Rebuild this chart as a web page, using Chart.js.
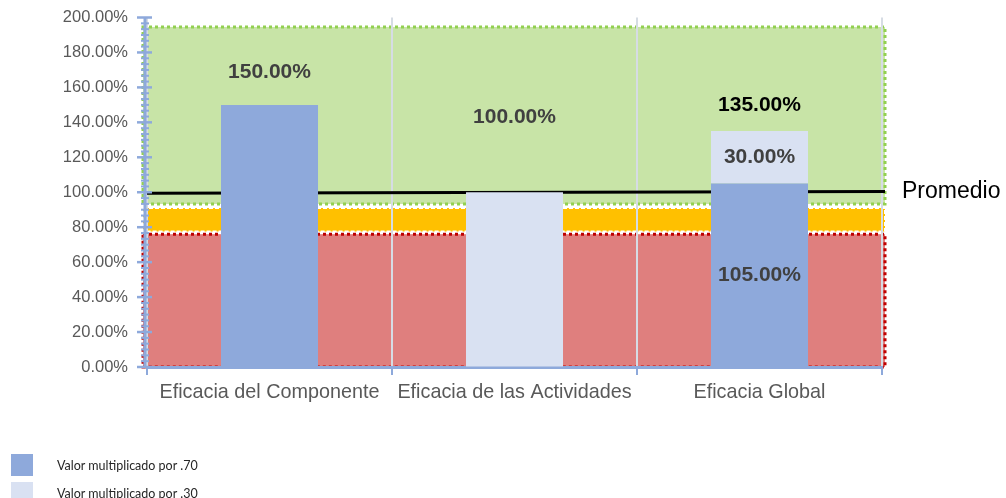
<!DOCTYPE html>
<html lang="es">
<head>
<meta charset="utf-8">
<title>Eficacia</title>
<script src="https://cdn.jsdelivr.net/npm/chart.js@4.4.1/dist/chart.umd.min.js"></script>
<style>
    html, body { margin: 0; padding: 0; background: #ffffff; }
    #contenedor { position: relative; width: 1006px; height: 498px; overflow: hidden; }
    #leyenda {
        position: absolute; left: 11px; top: 454px;
        font-family: "Lato", "Liberation Sans", sans-serif; font-size: 12.5px; color: #262626;
    }
    .item { display: flex; align-items: center; height: 22px; margin-bottom: 6px; }
    .caja { width: 22px; height: 22px; margin-right: 24px; }
</style>
</head>
<body>
<div id="contenedor">
    <canvas id="grafica"></canvas>
    <div id="leyenda"></div>
</div>
<script>
/* -----------------------------
   DATOS
----------------------------- */
const categorias = ["Eficacia del Componente", "Eficacia de las Actividades", "Eficacia Global"];
const nombresSeries = ["Valor multiplicado por .70", "Valor multiplicado por .30"];
const valores70 = [150, 0, 105];
const valores30 = [0, 100, 30];
const ticksY = [0, 20, 40, 60, 80, 100, 120, 140, 160, 180, 200];

// rangos de semaforo (inicio, fin) y linea de promedio (izq, der)
const rangoRojo = [0, 76];
const rangoAmarillo = [77.5, 91];
const rangoVerde = [93.3, 194.6];
const promedio = [99.4, 100.4];

/* -----------------------------
   ESTILOS
----------------------------- */
const colorAzul = "#8EA9DB";
const colorAzulClaro = "#D9E1F2";
const fuente = "'Liberation Sans', Arial, sans-serif";
// separacion (px) entre la punta de cada barra y su total
const separacionTotal = [33, 75, 26];

const formato = v => v.toFixed(2) + "%";

/* -----------------------------
   PLUGINS
----------------------------- */
const bandas = {
    id: "bandas",
    beforeDraw(chart) {
        const { ctx, chartArea, scales: { y } } = chart;
        const izq = chartArea.left - 4;
        const der = chartArea.right + 3;

        function banda(rango, relleno, borde, guion, grosor) {
            const arriba = y.getPixelForValue(rango[1]);
            const abajo = y.getPixelForValue(rango[0]);
            ctx.save();
            ctx.fillStyle = relleno;
            ctx.fillRect(izq, arriba, der - izq, abajo - arriba);
            ctx.strokeStyle = borde;
            ctx.lineWidth = grosor;
            ctx.setLineDash(guion);
            ctx.strokeRect(izq, arriba, der - izq, abajo - arriba);
            ctx.restore();
        }

        banda(rangoVerde, "#C8E4A7", "#92D050", [3, 3], 3);
        banda(rangoAmarillo, "#FFC000", "#FFFFFF", [4, 2], 2);
        banda(rangoRojo, "#DF7F7E", "#C00000", [3, 3], 3);
    },
    beforeDatasetsDraw(chart) {
        const { ctx, chartArea, scales: { y } } = chart;
        const y1 = y.getPixelForValue(promedio[0]);
        const y2 = y.getPixelForValue(promedio[1]);
        ctx.save();
        ctx.strokeStyle = "#000000";
        ctx.lineWidth = 3;
        ctx.beginPath();
        ctx.moveTo(chartArea.left, y1);
        ctx.lineTo(chartArea.right + 3, y2);
        ctx.stroke();

        ctx.fillStyle = "#000000";
        ctx.font = "23px " + fuente;
        ctx.textAlign = "left";
        ctx.textBaseline = "middle";
        ctx.fillText("Promedio", chartArea.right + 20, y2);
        ctx.restore();
    }
};

const etiquetas = {
    id: "etiquetas",
    afterDatasetsDraw(chart) {
        const { ctx } = chart;
        const barras70 = chart.getDatasetMeta(0).data;
        const barras30 = chart.getDatasetMeta(1).data;
        ctx.save();
        ctx.font = "bold 21px " + fuente;
        ctx.textAlign = "center";
        ctx.textBaseline = "middle";

        categorias.forEach((c, i) => {
            const a = valores70[i];
            const b = valores30[i];
            const total = a + b;
            const tope = b ? barras30[i] : barras70[i];
            const x = tope.x;

            if (a && b) {
                ctx.fillStyle = "#404040";
                const s1 = barras70[i];
                const s2 = barras30[i];
                ctx.fillText(formato(a), x, (s1.y + s1.base) / 2);
                ctx.fillText(formato(b), x, (s2.y + s2.base) / 2);
                ctx.fillStyle = "#000000";
            } else {
                ctx.fillStyle = "#404040";
            }
            ctx.fillText(formato(total), x, tope.y - separacionTotal[i]);
        });
        ctx.restore();
    }
};

const ejeY = {
    id: "ejeY",
    afterDraw(chart) {
        const { ctx, chartArea, scales: { y } } = chart;
        const x = chartArea.left - 2;
        ctx.save();
        ctx.strokeStyle = colorAzul;
        ctx.lineWidth = 3;
        ctx.beginPath();
        ctx.moveTo(x, y.getPixelForValue(ticksY[ticksY.length - 1]));
        ctx.lineTo(x, y.getPixelForValue(ticksY[0]));
        ctx.stroke();

        ctx.lineWidth = 2.5;
        for (let k = 0; k < ticksY.length; k++) {
            const py = y.getPixelForValue(ticksY[k]);
            ctx.beginPath();
            ctx.moveTo(x - 8, py);
            ctx.lineTo(x + 7, py);
            ctx.stroke();

            if (k < ticksY.length - 1) {
                const paso = (ticksY[k + 1] - ticksY[k]) / 6;
                ctx.lineWidth = 2;
                for (let m = 1; m < 6; m++) {
                    const pm = y.getPixelForValue(ticksY[k] + paso * m);
                    ctx.beginPath();
                    ctx.moveTo(x - 4, pm);
                    ctx.lineTo(x + 4, pm);
                    ctx.stroke();
                }
                ctx.lineWidth = 2.5;
            }
        }
        ctx.restore();
    }
};

/* -----------------------------
   GRAFICA
----------------------------- */
const grafica = new Chart(document.getElementById("grafica"), {
    type: "bar",
    data: {
        labels: categorias,
        datasets: [
            { label: nombresSeries[0], data: valores70, backgroundColor: colorAzul, borderWidth: 0 },
            { label: nombresSeries[1], data: valores30, backgroundColor: colorAzulClaro, borderWidth: 0 }
        ]
    },
    options: {
        responsive: true,
        maintainAspectRatio: false,
        animation: false,
        datasets: { bar: { barPercentage: 1, categoryPercentage: 0.396 } },
        layout: { padding: { top: 17.5, right: 124, bottom: 91, left: 0 } },
        plugins: {
            legend: { display: false },
            tooltip: { enabled: false }
        },
        scales: {
            x: {
                stacked: true,
                afterFit: s => { s.height = 40; },
                grid: {
                    offset: true,
                    color: "#D6DCE4",
                    lineWidth: 2,
                    drawTicks: true,
                    tickLength: 8,
                    tickColor: colorAzul,
                    tickWidth: 2
                },
                border: { color: colorAzul, width: 3 },
                ticks: { color: "#595959", font: { family: fuente, size: 19.8 }, padding: 6 }
            },
            y: {
                stacked: true,
                min: 0,
                max: 200,
                afterFit: s => { s.width = 147; },
                afterBuildTicks: s => { s.ticks = ticksY.map(v => ({ value: v })); },
                // el eje y sus marcas se dibujan en el plugin ejeY
                grid: {
                    drawOnChartArea: false,
                    drawTicks: true,
                    tickLength: 19,
                    tickColor: "rgba(0,0,0,0)"
                },
                border: { display: false },
                ticks: {
                    color: "#595959",
                    font: { family: fuente, size: 16.5 },
                    padding: 0,
                    callback: v => formato(v)
                }
            }
        }
    },
    plugins: [bandas, etiquetas, ejeY]
});

/* -----------------------------
   LEYENDA
----------------------------- */
const leyendaEl = document.getElementById("leyenda");
grafica.data.datasets.forEach(ds => {
    const item = document.createElement("div");
    item.className = "item";
    const caja = document.createElement("span");
    caja.className = "caja";
    caja.style.background = ds.backgroundColor;
    const texto = document.createElement("span");
    texto.innerText = ds.label;
    item.appendChild(caja);
    item.appendChild(texto);
    leyendaEl.appendChild(item);
});
</script>
</body>
</html>
